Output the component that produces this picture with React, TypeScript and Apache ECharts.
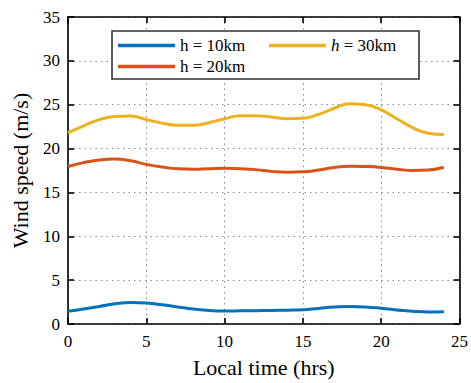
import React, { useEffect, useRef } from "react";
import * as echarts from "echarts";

const hours = [0, 1, 2, 3, 4, 5, 6, 7, 8, 9, 10, 11, 12, 13, 14, 15, 16, 17, 18, 19, 20, 21, 22, 23, 24];
const wind10 = [1.45, 1.7, 2.0, 2.3, 2.45, 2.4, 2.2, 1.95, 1.7, 1.55, 1.48, 1.5, 1.52, 1.55, 1.58, 1.63, 1.78, 1.93, 2.0, 1.95, 1.8, 1.6, 1.45, 1.37, 1.4];
const wind20 = [17.95, 18.4, 18.7, 18.8, 18.6, 18.2, 17.9, 17.7, 17.65, 17.7, 17.75, 17.7, 17.6, 17.4, 17.3, 17.35, 17.55, 17.85, 17.98, 17.95, 17.85, 17.65, 17.5, 17.55, 17.87];
const wind30 = [21.8, 22.6, 23.3, 23.65, 23.7, 23.3, 22.9, 22.65, 22.65, 22.95, 23.4, 23.75, 23.75, 23.6, 23.4, 23.45, 23.9, 24.6, 25.1, 25.0, 24.4, 23.4, 22.4, 21.75, 21.6];
const seriesNames = ["h = 10km", "h = 20km", "h = 30km"];
const seriesColors = ["#0072BD", "#D95319", "#EDB120"];
const xTicks = { min: 0, max: 25, interval: 5 };
const yTicks = { min: 0, max: 35, interval: 5 };

const FONT = "Liberation Serif";

export default function App() {
  const ref = useRef<HTMLDivElement>(null);
  useEffect(() => {
    if (!ref.current) return;
    const chart = echarts.init(ref.current, null, { renderer: "svg" });
    const values = [wind10, wind20, wind30];
    const frameAxis = {
      axisLine: { show: true, onZero: false, lineStyle: { color: "#000", width: 1.6 } },
      axisTick: { show: true, inside: true, length: 6, lineStyle: { color: "#000", width: 1.6 } },
    };
    const textStyle = { fontFamily: FONT, fontSize: 17, color: "#000", lineHeight: 17 };
    chart.setOption({
      animation: false,
      backgroundColor: "#fff",
      textStyle: { fontFamily: FONT },
      grid: { left: 68, right: 9, top: 17, bottom: 57, containLabel: false },
      xAxis: [
        {
          type: "value",
          position: "bottom",
          ...xTicks,
          ...frameAxis,
          axisLabel: { color: "#000", fontFamily: FONT, fontSize: 17, margin: 9 },
          splitLine: { show: true, lineStyle: { color: "#8a8a8a", width: 1, type: [1.5, 4] } },
          name: "Local time (hrs)",
          nameLocation: "middle",
          nameGap: 32,
          nameTextStyle: { color: "#000", fontFamily: FONT, fontSize: 22 },
        },
        {
          type: "value",
          position: "top",
          ...xTicks,
          ...frameAxis,
          axisLabel: { show: false },
          splitLine: { show: false },
        },
      ],
      yAxis: [
        {
          type: "value",
          position: "left",
          ...yTicks,
          ...frameAxis,
          axisLabel: { color: "#000", fontFamily: FONT, fontSize: 17, margin: 8 },
          splitLine: { show: true, lineStyle: { color: "#8a8a8a", width: 1, type: [1.5, 4] } },
          name: "Wind speed (m/s)",
          nameLocation: "middle",
          nameGap: 37,
          nameTextStyle: { color: "#000", fontFamily: FONT, fontSize: 22 },
        },
        {
          type: "value",
          position: "right",
          ...yTicks,
          ...frameAxis,
          axisLabel: { show: false },
          splitLine: { show: false },
        },
      ],
      graphic: [
        {
          type: "rect",
          z: 3,
          shape: { x: 112, y: 31, width: 307, height: 48 },
          style: { fill: "#fff", stroke: "#333", lineWidth: 1.6 },
        },
      ],
      legend: [
        {
          data: [seriesNames[0], seriesNames[1]],
          orient: "vertical",
          left: 118,
          top: 37,
          padding: 0,
          itemGap: 4,
          itemWidth: 57,
          itemHeight: 3.5,
          icon: "rect",
          z: 5,
          textStyle,
        },
        {
          data: [seriesNames[2]],
          orient: "vertical",
          left: 269,
          top: 37,
          padding: 0,
          itemGap: 4,
          itemWidth: 57,
          itemHeight: 3.5,
          icon: "rect",
          z: 5,
          formatter: (name: string) => "{i|h}" + name.slice(1),
          textStyle: {
            ...textStyle,
            rich: { i: { fontFamily: FONT, fontSize: 17, fontStyle: "italic", color: "#000", lineHeight: 17 } },
          },
        },
      ],
      series: values.map((v, i) => ({
        name: seriesNames[i],
        type: "line",
        data: hours.map((h, j) => [h, v[j]]),
        smooth: 0.5,
        showSymbol: false,
        symbol: "none",
        color: seriesColors[i],
        lineStyle: { width: 3, color: seriesColors[i] },
        z: 2,
      })),
    });
    return () => chart.dispose();
  }, []);
  return <div ref={ref} style={{ position: "fixed", left: 0, top: 0, width: 471, height: 383 }} />;
}
